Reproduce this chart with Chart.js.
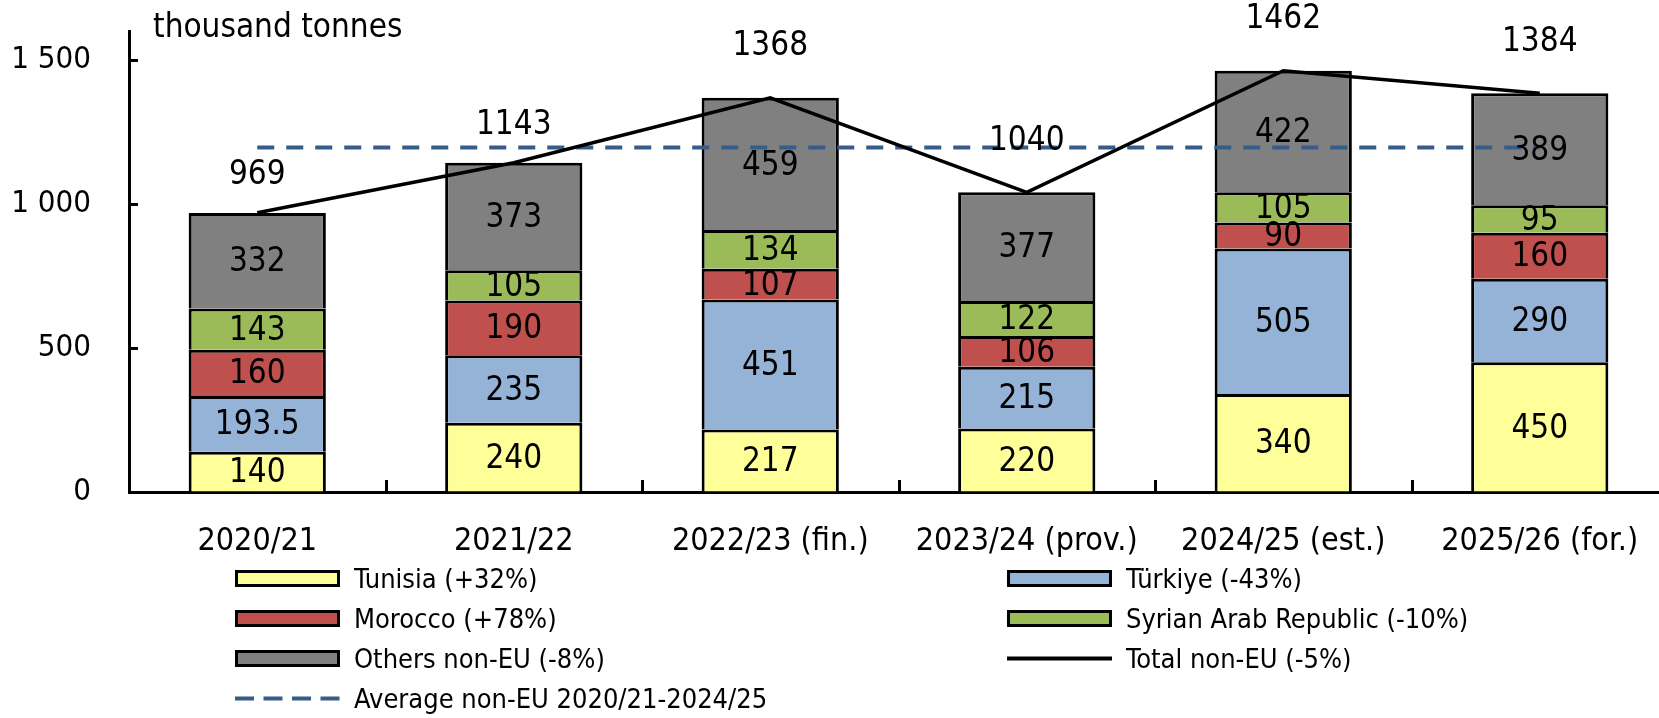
<!DOCTYPE html>
<html lang="en">
<head>
<meta charset="utf-8">
<title>Non-EU imports</title>
<script src="https://cdn.jsdelivr.net/npm/chart.js@4.4.1/dist/chart.umd.min.js"></script>
<style>
  html, body { margin: 0; padding: 0; background: #fff; overflow: hidden; }
  #wrap { position: relative; width: 1670px; height: 718px; }
  #legend {
    position: absolute; left: 235px; top: 558px;
    display: grid; grid-template-columns: 772px auto; grid-auto-rows: 40px;
    font-family: 'DejaVu Sans Condensed', 'DejaVu Sans', sans-serif;
    font-size: 27px; color: #000;
  }
  .item { display: flex; align-items: center; white-space: nowrap; }
  .box { width: 105px; height: 17px; box-sizing: border-box; border: 3px solid #000; margin-right: 14px; }
  .item svg { margin-right: 14px; }
</style>
</head>
<body>
<div id="wrap">
  <canvas id="chart"></canvas>
  <div id="legend"></div>
</div>
<script>
const FONT = "'DejaVu Sans Condensed', 'DejaVu Sans', sans-serif";

// data (thousand tonnes)
const seasons = ['2020/21', '2021/22', '2022/23 (fin.)', '2023/24 (prov.)', '2024/25 (est.)', '2025/26 (for.)'];
const tunisia = [140, 240, 217, 220, 340, 450];
const turkiye = [193.5, 235, 451, 215, 505, 290];
const morocco = [160, 190, 107, 106, 90, 160];
const syria = [143, 105, 134, 122, 105, 95];
const others = [332, 373, 459, 377, 422, 389];
const totalNonEU = [969, 1143, 1368, 1040, 1462, 1384];
const averageNonEU = [1196, 1196, 1196, 1196, 1196, 1196];
const yTicks = [0, 500, 1000, 1500];

// how far the total labels sit above the line
const totalLift = [37, 37, 51, 51, 51, 51];

function bar(label, data, color) {
  return {
    label: label,
    data: data,
    backgroundColor: color,
    borderColor: '#000',
    borderWidth: 3,
    borderSkipped: 'start',
    barPercentage: 0.535,
    categoryPercentage: 1,
    order: 1
  };
}

// tick marks pointing inwards, the value labels and the unit
const extras = {
  id: 'extras',
  afterDatasetsDraw(chart) {
    const ctx = chart.ctx;
    const xs = chart.scales.x, ys = chart.scales.y;
    const area = chart.chartArea;
    ctx.save();
    ctx.strokeStyle = '#000';
    ctx.lineWidth = 3;
    ctx.beginPath();
    yTicks.slice(1).forEach(v => {
      const py = Math.round(ys.getPixelForValue(v)) + 0.5;
      ctx.moveTo(area.left, py);
      ctx.lineTo(area.left + 9, py);
    });
    for (let i = 1; i < seasons.length; i++) {
      const px = Math.round((xs.getPixelForValue(i - 1) + xs.getPixelForValue(i)) / 2) + 0.5;
      ctx.moveTo(px, area.bottom);
      ctx.lineTo(px, area.bottom - 12);
    }
    ctx.stroke();

    ctx.fillStyle = '#000';
    ctx.font = '33px ' + FONT;
    ctx.textAlign = 'center';
    ctx.textBaseline = 'middle';
    chart.data.datasets.forEach((ds, i) => {
      if (ds.type === 'line') return;
      chart.getDatasetMeta(i).data.forEach((el, j) => {
        ctx.fillText(String(ds.data[j]), el.x, (el.y + el.base) / 2 + 2);
      });
    });
    chart.getDatasetMeta(5).data.forEach((pt, j) => {
      ctx.fillText(String(totalNonEU[j]), pt.x, pt.y - totalLift[j]);
    });

    ctx.textAlign = 'left';
    ctx.textBaseline = 'alphabetic';
    ctx.fillText('thousand tonnes', 153, 37);
    ctx.restore();
  }
};

const config = {
  type: 'bar',
  data: {
    labels: seasons,
    datasets: [
      bar('Tunisia (+32%)', tunisia, '#FFFF99'),
      bar('Türkiye (-43%)', turkiye, '#95B3D7'),
      bar('Morocco (+78%)', morocco, '#C0504D'),
      bar('Syrian Arab Republic (-10%)', syria, '#9BBB59'),
      bar('Others non-EU (-8%)', others, '#808080'),
      {
        type: 'line',
        label: 'Total non-EU (-5%)',
        data: totalNonEU,
        borderColor: '#000',
        borderWidth: 3.5,
        pointRadius: 0,
        tension: 0,
        stack: 'total',
        order: 0
      },
      {
        type: 'line',
        label: 'Average non-EU 2020/21-2024/25',
        data: averageNonEU,
        borderColor: '#365C8A',
        borderWidth: 4,
        borderDash: [17, 12],
        pointRadius: 0,
        tension: 0,
        stack: 'avg',
        order: 0
      }
    ]
  },
  options: {
    responsive: true,
    maintainAspectRatio: false,
    animation: false,
    layout: { padding: { top: 31, right: 2, left: 0, bottom: 0 } },
    plugins: {
      legend: { display: false },
      tooltip: { enabled: false }
    },
    scales: {
      x: {
        stacked: true,
        offset: true,
        grid: { display: true, drawOnChartArea: false, drawTicks: false },
        border: { display: true, color: '#000', width: 3 },
        ticks: { color: '#000', font: { family: FONT, size: 32 }, padding: 30, maxRotation: 0, autoSkip: false },
        afterFit(scale) {
          scale.height = 226;
          scale.paddingLeft = 0;
          scale.paddingRight = 0;
        }
      },
      y: {
        stacked: true,
        min: 0,
        max: 1600,
        grid: { display: true, drawOnChartArea: false, drawTicks: false },
        border: { display: true, color: '#000', width: 3 },
        ticks: {
          color: '#000',
          font: { family: FONT, size: 31 },
          padding: 38,
          callback: v => String(v).replace(/\B(?=(\d{3})+(?!\d))/g, ' ')
        },
        afterBuildTicks(scale) { scale.ticks = yTicks.map(v => ({ value: v })); },
        afterFit(scale) {
          scale.width = 129;
          scale.paddingTop = 0;
          scale.paddingBottom = 0;
        }
      }
    }
  },
  plugins: [extras]
};

const context = document.getElementById('chart');
const chart = new Chart(context, config);

// legend in two columns, like the original
const legendBox = document.getElementById('legend');
chart.data.datasets.forEach(ds => {
  const item = document.createElement('div');
  item.className = 'item';
  let mark;
  if (ds.type === 'line') {
    const dash = ds.borderDash ? 'stroke-dasharray="19 9.5"' : '';
    mark = `<svg width="105" height="17"><line x1="0" y1="8.5" x2="105" y2="8.5" stroke="${ds.borderColor}" stroke-width="4" ${dash}/></svg>`;
  } else {
    mark = `<span class="box" style="background:${ds.backgroundColor}"></span>`;
  }
  item.innerHTML = mark + `<span>${ds.label}</span>`;
  legendBox.appendChild(item);
});
</script>
</body>
</html>
